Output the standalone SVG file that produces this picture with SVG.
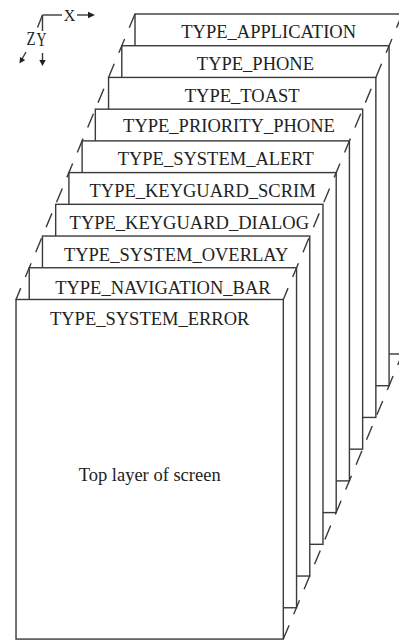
<svg xmlns="http://www.w3.org/2000/svg" width="399" height="640" viewBox="0 0 399 640">
<style>
.layer rect{fill:#fff;stroke:#3a3a3a;stroke-width:1.4}
.lbl{font-family:"Liberation Serif","Times New Roman",serif;font-size:18.5px;fill:#222;text-anchor:middle}
.ax{font-family:"Liberation Serif","Times New Roman",serif;font-size:16px;fill:#222;text-anchor:middle}
.axb{font-size:18px}
.dash{stroke:#3a3a3a;stroke-width:1.4;fill:none;stroke-dasharray:15 12}
.axl{stroke:#3a3a3a;stroke-width:1.4;fill:none}
.ah{fill:#222;stroke:none}
</style>
<rect width="399" height="640" fill="#fff"/>
<g id="axes">
<line class="axl" x1="42.5" y1="15" x2="62" y2="15"/>
<text class="ax" x="69.5" y="20.5">X</text>
<line class="axl" x1="77" y1="15" x2="89" y2="15"/>
<polygon class="ah" points="95,15 88,11.8 88,18.2"/>
<line class="axl" x1="42.5" y1="15" x2="42.5" y2="31"/>
<line class="axl" x1="42.5" y1="15" x2="37.5" y2="27.5"/>
<text class="ax axb" x="31" y="45" textLength="9" lengthAdjust="spacingAndGlyphs">Z</text>
<text class="ax axb" x="41.5" y="45.5" textLength="10" lengthAdjust="spacingAndGlyphs">Y</text>
<line class="axl" x1="26" y1="52" x2="22" y2="59"/>
<polygon class="ah" points="19.5,63.5 25.2,59.9 20,56.9"/>
<line class="axl" x1="42.5" y1="53" x2="42.5" y2="61"/>
<polygon class="ah" points="42.5,66 39.3,60 45.7,60"/>
</g>
<g id="layer-application" class="layer"><rect x="135" y="14" width="267.3" height="340"/><text class="lbl" x="268.65" y="37.5">TYPE_APPLICATION</text></g>
<g id="layer-phone" class="layer"><rect x="121.78" y="45.72" width="267.3" height="340"/><text class="lbl" x="255.43" y="70">TYPE_PHONE</text></g>
<g id="layer-toast" class="layer"><rect x="108.56" y="77.44" width="267.3" height="340"/><text class="lbl" x="242.21" y="102">TYPE_TOAST</text></g>
<g id="layer-priority-phone" class="layer"><rect x="95.34" y="109.16" width="267.3" height="340"/><text class="lbl" x="228.99" y="132">TYPE_PRIORITY_PHONE</text></g>
<g id="layer-system-alert" class="layer"><rect x="82.12" y="140.88" width="267.3" height="340"/><text class="lbl" x="215.77" y="165">TYPE_SYSTEM_ALERT</text></g>
<g id="layer-keyguard-scrim" class="layer"><rect x="68.9" y="172.6" width="267.3" height="340"/><text class="lbl" x="202.55" y="197">TYPE_KEYGUARD_SCRIM</text></g>
<g id="layer-keyguard-dialog" class="layer"><rect x="55.68" y="204.32" width="267.3" height="340"/><text class="lbl" x="189.33" y="229">TYPE_KEYGUARD_DIALOG</text></g>
<g id="layer-system-overlay" class="layer"><rect x="42.46" y="236.04" width="267.3" height="340"/><text class="lbl" x="176.11" y="260.5">TYPE_SYSTEM_OVERLAY</text></g>
<g id="layer-navigation-bar" class="layer"><rect x="29.24" y="267.76" width="267.3" height="340"/><text class="lbl" x="162.89" y="293.5">TYPE_NAVIGATION_BAR</text></g>
<g id="layer-system-error" class="layer"><rect x="16.02" y="299.48" width="267.3" height="339.6"/><text class="lbl" x="149.67" y="325">TYPE_SYSTEM_ERROR</text><text class="lbl" x="149.67" y="481">Top layer of screen</text></g>
<g id="connectors">
<line class="dash" x1="135" y1="14" x2="16.02" y2="299.48"/>
<line class="dash" x1="402.3" y1="14" x2="283.32" y2="299.48"/>
<line class="dash" x1="283.32" y1="639.1" x2="402.3" y2="354"/>
</g>
</svg>
